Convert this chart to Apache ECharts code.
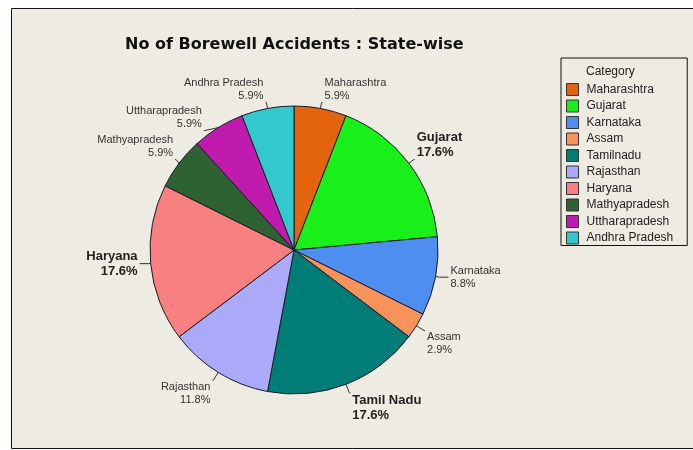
<!DOCTYPE html>
<html>
<head>
<meta charset="utf-8">
<script src="https://cdn.jsdelivr.net/npm/echarts@6/dist/echarts.min.js"></script>
<style>
  html, body { margin: 0; padding: 0; background: #ffffff; }
  #chart { width: 693px; height: 450px; }
</style>
</head>
<body>
<div id="chart"></div>
<script>
// legend names and the (slightly different) slice label names
var categories = ["Maharashtra", "Gujarat", "Karnataka", "Assam", "Tamilnadu",
  "Rajasthan", "Haryana", "Mathyapradesh", "Uttharapradesh", "Andhra Pradesh"];
var labelNames = ["Maharashtra", "Gujarat", "Karnataka", "Assam", "Tamil Nadu",
  "Rajasthan", "Haryana", "Mathyapradesh", "Uttharapradesh", "Andhra Pradesh"];
// number of accidents (34 in total)
var counts = [2, 6, 3, 1, 6, 4, 6, 2, 2, 2];
var colors = ["#e3640c", "#19f019", "#4d8ef0", "#f7925a", "#007d76",
  "#aaaaf8", "#f98080", "#2f6233", "#c01aae", "#33c8cc"];

var myChart = echarts.init(document.getElementById("chart"));

var total = counts.reduce(function (a, b) { return a + b; }, 0);
var maxVal = Math.max.apply(null, counts);

// mid angle of each slice (clockwise from 12 o'clock), used to place labels
var midAngles = [];
var acc = 0;
counts.forEach(function (v) {
  midAngles.push(((acc + v / 2) / total) * Math.PI * 2);
  acc += v;
});

var pieData = categories.map(function (name, i) {
  var item = { name: name, value: counts[i] };
  var c = Math.cos(midAngles[i]);
  if (Math.abs(c) < 0.5) {
    // side labels get a longer horizontal leader
    item.labelLine = { length: 4, length2: 9 };
  } else if (c < 0) {
    item.labelLine = { length: 9, length2: 1 };
  }
  if (counts[i] === maxVal) {
    item.label = { fontWeight: "bold", fontSize: 13, lineHeight: 15, color: "#222" };
  }
  return item;
});

var option = {
  backgroundColor: "#ffffff",
  animation: false,
  color: colors,
  title: {
    text: "No of Borewell Accidents : State-wise",
    left: 120,
    top: 32,
    textStyle: {
      fontFamily: "DejaVu Sans",
      fontWeight: "bold",
      fontSize: 16,
      color: "#111",
    },
  },
  graphic: [
    {
      type: "rect",
      z: -10,
      shape: { x: 11.5, y: 8.5, width: 700, height: 440 },
      style: { fill: "#eeebe2", stroke: "#111", lineWidth: 1 },
    },
    {
      type: "text",
      left: 586,
      top: 66,
      style: {
        text: "Category",
        fontFamily: "Liberation Sans",
        fontSize: 12,
        fill: "#222",
      },
    },
  ],
  legend: {
    orient: "vertical",
    left: 561,
    top: 58,
    padding: [25, 14, 1, 5],
    itemWidth: 12,
    itemHeight: 12,
    itemGap: 3.5,
    borderColor: "#111",
    borderWidth: 1,
    icon: "rect",
    itemStyle: { borderColor: "#333", borderWidth: 1 },
    textStyle: {
      fontFamily: "Liberation Sans",
      fontSize: 12,
      lineHeight: 12,
      color: "#222",
      padding: [0, 0, 0, 3],
    },
    data: categories,
  },
  series: [
    {
      type: "pie",
      center: [294, 250],
      radius: 144,
      startAngle: 90,
      clockwise: true,
      itemStyle: { borderColor: "#1a1a2a", borderWidth: 1 },
      emphasis: { disabled: true },
      label: {
        show: true,
        position: "outside",
        fontFamily: "Liberation Sans",
        fontSize: 11,
        lineHeight: 13,
        color: "#333",
        distanceToLabelLine: 2,
        formatter: function (p) {
          var pct = (counts[p.dataIndex] / total) * 100;
          return labelNames[p.dataIndex] + "\n" + pct.toFixed(1) + "%";
        },
      },
      labelLine: {
        show: true,
        length: 6,
        length2: 1,
        lineStyle: { color: "#333", width: 1 },
      },
      labelLayout: function (params) {
        var c = Math.cos(midAngles[params.dataIndex]);
        var va = "middle";
        if (c > 0.5) va = "bottom";
        else if (c < -0.5) va = "top";
        return { verticalAlign: va };
      },
      data: pieData,
    },
  ],
};
myChart.setOption(option);
</script>
</body>
</html>
